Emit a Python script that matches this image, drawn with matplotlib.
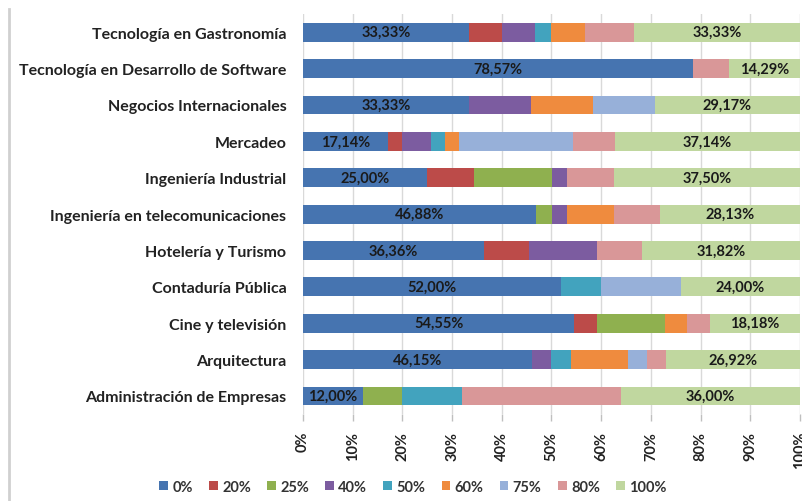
import numpy as np
import matplotlib
matplotlib.use("Agg")
import matplotlib.pyplot as plt
from matplotlib.lines import Line2D

plt.rcParams["font.family"] = ["Lato", "DejaVu Sans"]

categories = [
    "Tecnología en Gastronomía",
    "Tecnología en Desarrollo de Software",
    "Negocios Internacionales",
    "Mercadeo",
    "Ingeniería Industrial",
    "Ingeniería en telecomunicaciones",
    "Hotelería y Turismo",
    "Contaduría Pública",
    "Cine y televisión",
    "Arquitectura",
    "Administración de Empresas",
]

series_names = ["0%", "20%", "25%", "40%", "50%", "60%", "75%", "80%", "100%"]

p0 = [33.33, 78.57, 33.33, 17.14, 25.00, 46.88, 36.36, 52.00, 54.55, 46.15, 12.00]
p20 = [6.67, 0, 0, 2.86, 9.38, 0, 9.09, 0, 4.55, 0, 0]
p25 = [0, 0, 0, 0, 15.63, 3.13, 0, 0, 13.64, 0, 8.00]
p40 = [6.67, 0, 12.50, 5.71, 3.13, 3.13, 13.64, 0, 0, 3.85, 0]
p50 = [3.33, 0, 0, 2.86, 0, 0, 0, 8.00, 0, 3.85, 12.00]
p60 = [6.67, 0, 12.50, 2.86, 0, 9.38, 0, 0, 4.55, 11.54, 0]
p75 = [0, 0, 12.50, 22.86, 0, 0, 0, 16.00, 0, 3.85, 0]
p80 = [10.00, 7.14, 0, 8.57, 9.38, 9.38, 9.09, 0, 4.55, 3.85, 32.00]
p100 = [33.33, 14.29, 29.17, 37.14, 37.50, 28.13, 31.82, 24.00, 18.18, 26.92, 36.00]

series_values = [p0, p20, p25, p40, p50, p60, p75, p80, p100]
colors = ["#4674B0", "#BC4B49", "#8FB04F", "#7C5CA0", "#42A3BE",
          "#EF8B3E", "#97B0D9", "#D99798", "#C0D79F"]
labeled = {"0%", "100%"}


def fmt_pct(v):
    return f"{v:.2f}%".replace(".", ",")


fig = plt.figure(figsize=(8.02, 5.02), dpi=100)
ax = fig.add_axes([0.3778, 0.173, 0.6197, 0.797])

y = np.arange(len(categories))
left = np.zeros(len(categories))

for name, vals, color in zip(series_names, series_values, colors):
    vals = np.array(vals, dtype=float)
    ax.barh(y, vals, left=left, height=0.52, color=color, label=name, zorder=3)
    if name in labeled:
        for yi, l, v in zip(y, left, vals):
            if v > 0:
                ax.text(l + v / 2, yi, fmt_pct(v), ha="center", va="center",
                        fontsize=10.5, fontweight="bold", color="#1a1a1a", zorder=4)
    left += vals

ax.set_xlim(0, 100)
ax.set_ylim(len(categories) - 0.5, -0.5)
ax.set_xticks(np.arange(0, 101, 10))
ax.set_xticklabels([f"{t}%" for t in range(0, 101, 10)], rotation=90,
                   fontsize=10.5, fontweight="bold", color="#222222")
ax.set_yticks(y)
ax.set_yticklabels(categories, fontsize=11.5, fontweight="bold", color="#222222")
ax.tick_params(axis="y", length=0, pad=12)
ax.tick_params(axis="x", length=5, width=1, color="#bfbfbf", pad=7)
ax.grid(axis="x", color="#d9d9d9", linewidth=1, zorder=0)
for spine in ax.spines.values():
    spine.set_visible(False)

ax.legend(loc="center", bbox_to_anchor=(0.515, 0.028), bbox_transform=fig.transFigure,
          ncol=9, frameon=False, handlelength=0.6, handleheight=0.6,
          handletextpad=0.3, columnspacing=1.1,
          prop={"size": 10.5, "weight": "bold"}, labelcolor="#333333")

# chart frame edge on the left
fig.add_artist(Line2D([9 / 802, 9 / 802], [0, 0.98], transform=fig.transFigure,
                      color="#d0d0d0", linewidth=2))

fig.savefig("out.png", dpi=100)
